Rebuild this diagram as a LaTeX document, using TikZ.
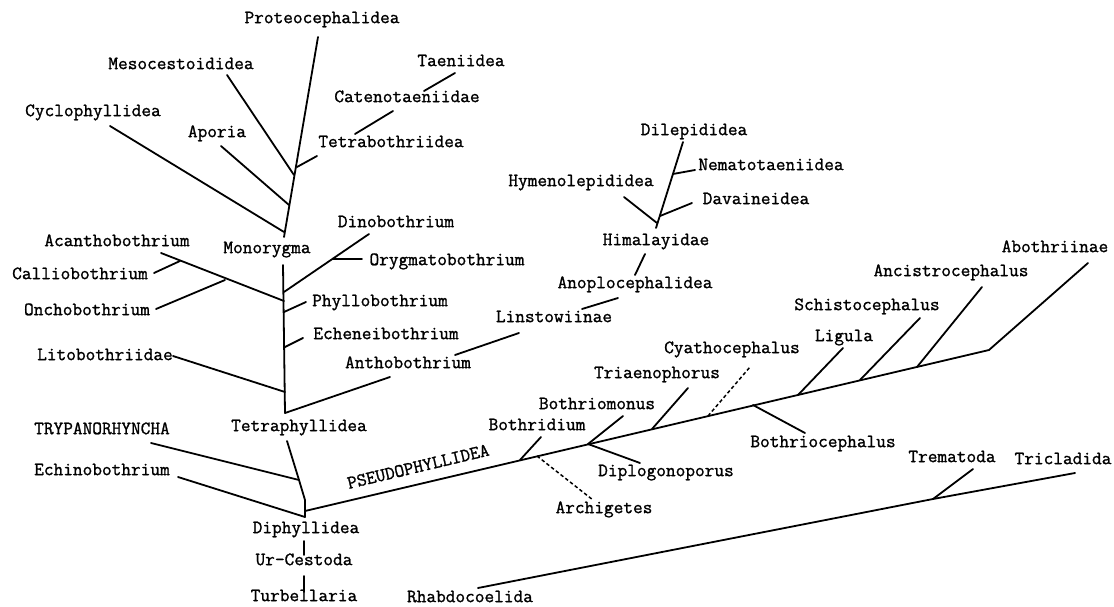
\documentclass[tikz,border=0pt]{standalone}
\usepackage{fontspec}
\usepackage{tikz}
\usetikzlibrary{calc}
\newfontfamily\typewriterfont{Latin Modern Mono}[FakeBold=1.2]

\begin{document}
\begin{tikzpicture}[x=1pt,y=-1pt,
		taxon/.style={anchor=mid,inner sep=0pt,font=\typewriterfont\fontsize{18.8}{20}\selectfont},
		branch/.style={line width=1.8pt,line cap=round},
		uncertain/.style={line width=1.5pt,dash pattern=on 3.5pt off 2.5pt}]
			
			% Fix the frame
			\useasboundingbox (0,0) rectangle (1114,607);
			
			% Draw the labels of the upper tree
			\node[taxon] (proteo) at (322,21) {Proteocephalidea};
			\node[taxon] (meso) at (181,67) {Mesocestoididea};
			\node[taxon] (cyclo) at (93,114) {Cyclophyllidea};
			\node[taxon] (aporia) at (217,135) {Aporia};
			\node[taxon] (tetrab) at (391,145) {Tetrabothriidea};
			\node[taxon] (cateno) at (407,100) {Catenotaeniidae};
			\node[taxon] (taenii) at (461,64) {Taeniidea};
			\node[taxon] (monor) at (267,251) {Monorygma};
			\node[taxon] (dino) at (396,225) {Dinobothrium};
			\node[taxon] (orygm) at (447,263) {Orygmatobothrium};
			\node[taxon] (phyllo) at (380,304) {Phyllobothrium};
			\node[taxon] (echen) at (386,337) {Echeneibothrium};
			\node[taxon] (antho) at (408,366) {Anthobothrium};
			\node[taxon] (linst) at (554,320) {Linstowiinae};
			\node[taxon] (anopl) at (635,286) {Anoplocephalidea};
			\node[taxon] (himal) at (656,243) {Himalayidae};
			\node[taxon] (hymen) at (581,184) {Hymenolepididea};
			\node[taxon] (dilep) at (694,133) {Dilepididea};
			\node[taxon] (nemat) at (771,168) {Nematotaeniidea};
			\node[taxon] (davai) at (756,202) {Davaineidea};
			\node[taxon] (acan) at (117,244) {Acanthobothrium};
			\node[taxon] (calli) at (80,277) {Calliobothrium};
			\node[taxon] (oncho) at (87,313) {Onchobothrium};
			\node[taxon] (lito) at (105,358) {Litobothriidae};
			\node[taxon] (tetraph) at (299,429) {Tetraphyllidea};
			\node[taxon] (trypa) at (102,432) {TRYPANORHYNCHA};
			\node[taxon] (echino) at (102,473) {Echinobothrium};
			
			% Draw the labels of the base
			\node[taxon] (diphy) at (306,531) {Diphyllidea};
			\node[taxon] (urcest) at (304,563) {Ur-Cestoda};
			\node[taxon] (turbel) at (304,599) {Turbellaria};
			\node[taxon] (rhabdo) at (470,600) {Rhabdocoelida};
			\node[taxon] (tremat) at (952,460) {Trematoda};
			\node[taxon] (tricla) at (1063,462) {Tricladida};
			
			% Draw the labels of the pseudophyllid line
			\node[taxon,rotate=13.4] (pseudo) at (419,470) {PSEUDOPHYLLIDEA};
			\node[taxon] (bothrid) at (537,428) {Bothridium};
			\node[taxon] (archig) at (604,511) {Archigetes};
			\node[taxon] (bothrm) at (597,407) {Bothriomonus};
			\node[taxon] (diplog) at (666,474) {Diplogonoporus};
			\node[taxon] (triaen) at (657,376) {Triaenophorus};
			\node[taxon] (cyath) at (732,351) {Cyathocephalus};
			\node[taxon] (bothrc) at (823,445) {Bothriocephalus};
			\node[taxon] (ligula) at (844,339) {Ligula};
			\node[taxon] (schist) at (867,308) {Schistocephalus};
			\node[taxon] (ancist) at (951,274) {Ancistrocephalus};
			\node[taxon] (aboth) at (1055,250) {Abothriinae};
			
			% Points of the upper stem
			\coordinate (s1) at (284,237);
			\coordinate (s2) at (318,37);
			\coordinate (jcyc) at (284,232);
			\coordinate (japo) at (289,205);
			\coordinate (jmeso) at (294,175);
			\coordinate (jtb) at (297,167);
			\coordinate (ecyc) at (110,126);
			\coordinate (eapo) at (221,146);
			\coordinate (emeso) at (227,75);
			\coordinate (etb) at (317,156);
			\coordinate (ct1) at (355,134);
			\coordinate (ct2) at (393,111);
			\coordinate (ta1) at (424,91);
			\coordinate (ta2) at (455,73);
			
			% Points of the Monorygma stem
			\coordinate (m1) at (283,265);
			\coordinate (m2) at (285,413);
			\coordinate (jdino) at (284,292);
			\coordinate (edino) at (369,234);
			\coordinate (joryg) at (333,259);
			\coordinate (eoryg) at (362,259);
			\coordinate (jacan) at (284,301);
			\coordinate (eacan) at (161,253);
			\coordinate (jcalli) at (180,261);
			\coordinate (ecalli) at (154,273);
			\coordinate (joncho) at (225,280);
			\coordinate (eoncho) at (156,309);
			\coordinate (jphyl) at (284,312);
			\coordinate (ephyl) at (306,302);
			\coordinate (jeche) at (285,347);
			\coordinate (eeche) at (303,338);
			\coordinate (jlito) at (285,392);
			\coordinate (elito) at (173,356);
			\coordinate (eantho) at (390,377);
			
			% Points of the cyclophyllid side line
			\coordinate (li1) at (455,355);
			\coordinate (li2) at (519,333);
			\coordinate (an1) at (582,309);
			\coordinate (an2) at (618,298);
			\coordinate (hi1) at (635,275);
			\coordinate (hi2) at (645,254);
			\coordinate (h1) at (656,228);
			\coordinate (h2) at (683,142);
			\coordinate (jhym) at (657,223);
			\coordinate (ehym) at (624,197);
			\coordinate (jdav) at (660,216);
			\coordinate (edav) at (692,203);
			\coordinate (jnem) at (673,174);
			\coordinate (enem) at (695,170);
			
			% Points near the root
			\coordinate (t1) at (287,441);
			\coordinate (jtryp) at (299,480);
			\coordinate (t2) at (305,500);
			\coordinate (base) at (305,511);
			\coordinate (stub) at (305,517);
			\coordinate (etryp) at (151,443);
			\coordinate (eechi) at (178,477);
			\coordinate (d1) at (304,541);
			\coordinate (d2) at (304,555);
			\coordinate (u1) at (304,576);
			\coordinate (u2) at (304,592);
			\coordinate (r1) at (478,588);
			\coordinate (jtrem) at (933,499);
			\coordinate (r2) at (1075,473);
			\coordinate (etrem) at (973,469);
			
			% Points of the pseudophyllid line
			\coordinate (pend) at (989,350);
			\coordinate (eabo) at (1088,263);
			\coordinate (jbrid) at (520,460);
			\coordinate (ebrid) at (541,437);
			\coordinate (jarch) at (537,456);
			\coordinate (earch) at (593,500);
			\coordinate (jbmon) at (588,444);
			\coordinate (ebmon) at (623,416);
			\coordinate (edipl) at (640,463);
			\coordinate (jtria) at (652,429);
			\coordinate (etria) at (688,388);
			\coordinate (jcyat) at (708,416);
			\coordinate (ecyat) at (750,367);
			\coordinate (jbcep) at (753,405);
			\coordinate (ebcep) at (805,433);
			\coordinate (jlig) at (798,395);
			\coordinate (elig) at (843,348);
			\coordinate (jsch) at (860,380);
			\coordinate (esch) at (920,318);
			\coordinate (janc) at (917,367);
			\coordinate (eanc) at (982,287);
			
			% Draw the stems
			\draw[branch] (s1) -- (s2);
			\draw[branch] (m1) -- (m2);
			\draw[branch] (h1) -- (h2);
			\draw[branch] (t1) -- (jtryp) -- (t2) -- (stub);
			\draw[branch] (base) -- (pend) -- (eabo);
			\draw[branch] (r1) -- (jtrem) -- (r2);
			
			% Draw the side branches
			\foreach \a/\b in {jcyc/ecyc, japo/eapo, jmeso/emeso, jtb/etb, ct1/ct2, ta1/ta2,
				jdino/edino, joryg/eoryg, jacan/eacan, jcalli/ecalli, joncho/eoncho,
				jphyl/ephyl, jeche/eeche, jlito/elito, m2/eantho,
				li1/li2, an1/an2, hi1/hi2, jhym/ehym, jdav/edav, jnem/enem,
				jtryp/etryp, stub/eechi, d1/d2, u1/u2, jtrem/etrem,
				jbrid/ebrid, jbmon/ebmon, jbmon/edipl, jtria/etria, jbcep/ebcep,
				jlig/elig, jsch/esch, janc/eanc} {
				\draw[branch] (\a) -- (\b);
			}
			
			% Draw the uncertain branches
			\foreach \a/\b in {jarch/earch, jcyat/ecyat} {
				\draw[uncertain] (\a) -- (\b);
			}
		\end{tikzpicture}
\end{document}
